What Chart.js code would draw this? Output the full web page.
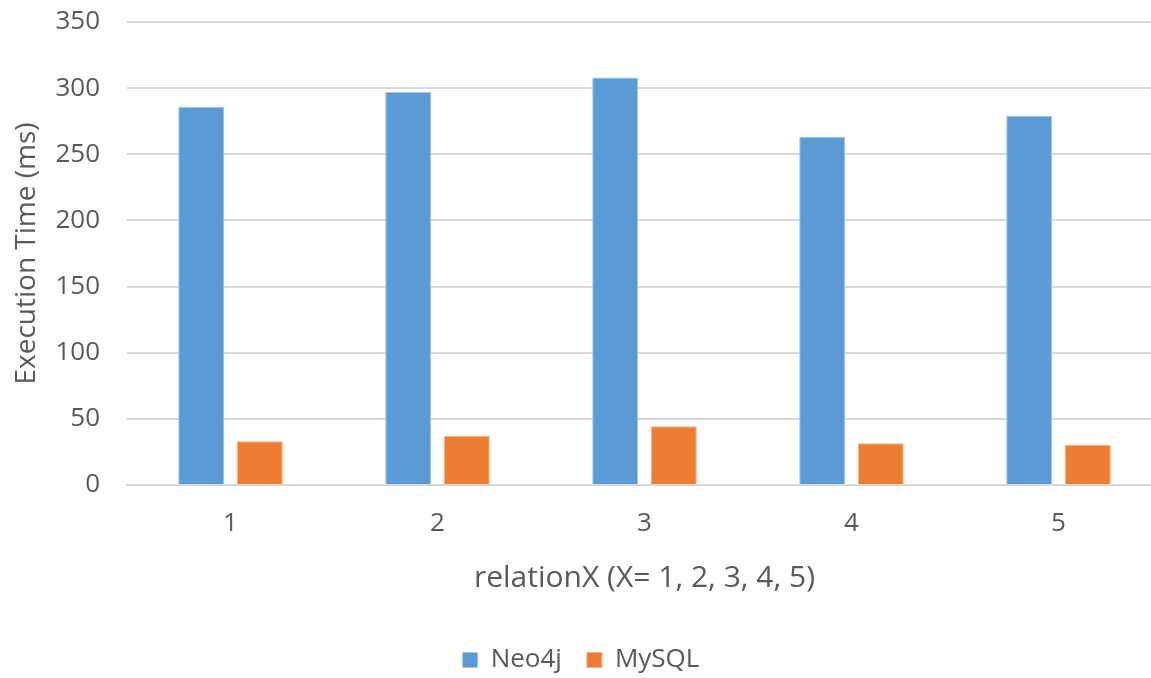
<!DOCTYPE html>
<html>
<head>
<meta charset="utf-8">
<script src="https://cdn.jsdelivr.net/npm/chart.js@4.4.1/dist/chart.umd.min.js"></script>
<style>
  html, body { margin: 0; padding: 0; background: #fff; overflow: hidden; }
  /* the original plot runs past the right edge of the picture, so the canvas is a bit bigger and clipped */
  #wrap { width: 1151px; height: 678px; overflow: hidden; }
</style>
</head>
<body>
<div id="wrap"><canvas id="chart" width="1165" height="683"></canvas></div>
<script>
const categories = ['1', '2', '3', '4', '5'];
const neo4jTimes = [286, 297, 308, 263, 279];
const mysqlTimes = [33, 37, 44.5, 31.5, 30.5];
const yTicks = [0, 50, 100, 150, 200, 250, 300, 350];

const textColor = '#595959';
const fontFamily = '"Open Sans", sans-serif';

new Chart(document.getElementById('chart'), {
  type: 'bar',
  data: {
    labels: categories,
    datasets: [
      {
        label: 'Neo4j',
        data: neo4jTimes,
        backgroundColor: '#5B9BD5',
        borderColor: '#9DC3E6',
        borderWidth: 1,
      },
      {
        label: 'MySQL',
        data: mysqlTimes,
        backgroundColor: '#ED7D31',
        borderColor: '#F4B183',
        borderWidth: 1,
      },
    ],
  },
  options: {
    responsive: false,
    animation: false,
    categoryPercentage: 0.566,
    barPercentage: 0.785,
    layout: { padding: { top: 22, right: 3, left: 0, bottom: 0 } },
    plugins: {
      tooltip: { enabled: false },
      legend: {
        position: 'bottom',
        labels: {
          color: textColor,
          font: { family: fontFamily, size: 26 },
          boxWidth: 15,
          boxHeight: 15,
          padding: 25,
        },
      },
    },
    scales: {
      x: {
        grid: { display: false, drawTicks: false },
        border: { display: true, color: '#d9d9d9', width: 2 },
        ticks: { color: textColor, font: { family: fontFamily, size: 26 }, padding: 23 },
        title: {
          display: true,
          text: 'relationX (X= 1, 2, 3, 4, 5)',
          color: textColor,
          font: { family: fontFamily, size: 30 },
          padding: { top: 0, bottom: 26 },
        },
        afterFit: (scale) => { scale.height = 137; },
      },
      y: {
        min: 0,
        max: 350,
        afterBuildTicks: (scale) => { scale.ticks = yTicks.map((v) => ({ value: v })); },
        grid: { color: '#d9d9d9', lineWidth: 2, drawTicks: true, tickLength: 27, tickColor: 'rgba(0,0,0,0)' },
        border: { display: false },
        ticks: { color: textColor, font: { family: fontFamily, size: 26 }, padding: 0 },
        title: {
          display: true,
          text: 'Execution Time (ms)',
          color: textColor,
          font: { family: fontFamily, size: 28 },
          padding: { top: 10, bottom: 0 },
        },
        afterFit: (scale) => { scale.width = 127; },
      },
    },
  },
});
</script>
</body>
</html>
